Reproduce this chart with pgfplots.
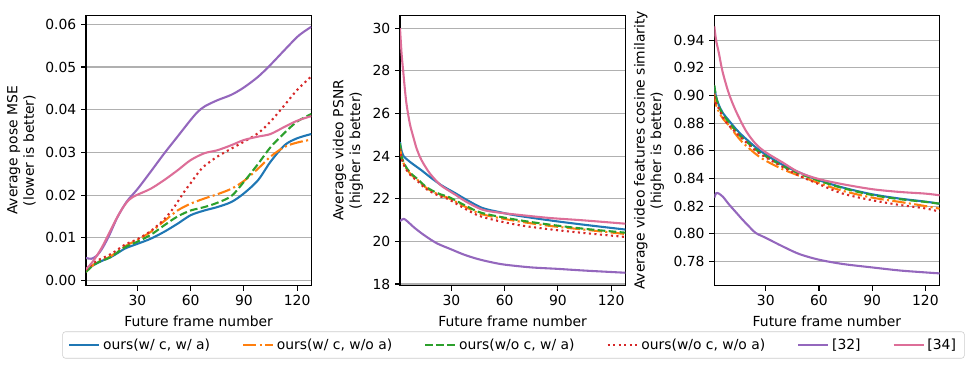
\documentclass[border=0pt]{standalone}
\usepackage{fontspec}
\setmainfont{DejaVu Sans}
\usepackage{pgfplots}
\pgfplotsset{compat=1.18}
\definecolor{cblue}{HTML}{1F77B4}
\definecolor{corange}{HTML}{FF7F0E}
\definecolor{cgreen}{HTML}{2CA02C}
\definecolor{cred}{HTML}{D62728}
\definecolor{cpurple}{HTML}{9467BD}
\definecolor{cpink}{HTML}{DD6E98}
\definecolor{cgrid}{HTML}{B0B0B0}
\pgfplotsset{
  panel/.style={
    scale only axis, width=162.2pt, height=194.7pt,
    xmin=1, xmax=128, xtick={30,60,90,120},
    tick align=outside, tick pos=left,
    major tick length=3.5pt,
    every tick/.style={black, line width=0.8pt},
    axis line style={line width=0.8pt},
    ymajorgrids, grid style={color=cgrid, line width=0.8pt},
    xlabel={Future frame number},
    ticklabel style={font=\fontsize{10}{12}\selectfont},
    label style={font=\fontsize{10}{12}\selectfont},
    ylabel style={align=center},
    /pgf/number format/assume math mode=true,
    every axis plot/.append style={line width=1.5pt, smooth, line join=round},
    legend image code/.code={\draw[#1] (0pt,0pt) -- (21.6pt,0pt);},
  },
  sblue/.style={cblue, solid},
  sorange/.style={corange, dash pattern=on 9.6pt off 2.4pt on 1.5pt off 2.4pt},
  sgreen/.style={cgreen, dash pattern=on 5.55pt off 2.4pt},
  sred/.style={cred, dash pattern=on 1.5pt off 2.475pt},
  spurple/.style={cpurple, solid},
  spink/.style={cpink, solid},
}
\begin{document}
\begin{tikzpicture}
\path[use as bounding box] (0pt,0pt) rectangle (700.56pt,264.24pt);
% ---------------- Panel 1 ----------------
\begin{axis}[panel, at={(61.92pt,58.54pt)}, anchor=south west,
  ymin=-0.0012, ymax=0.0621, ytick={0,0.01,0.02,0.03,0.04,0.05,0.06},
  scaled y ticks=false,
  yticklabel style={/pgf/number format/.cd, fixed, fixed zerofill, precision=2},
  ylabel={Average pose MSE\\(lower is better)},
  legend columns=6,
  legend style={at={(1.8975,-0.2193)}, anchor=center, draw=black!20, rounded corners=2pt,
    font=\fontsize{10}{12}\selectfont, inner xsep=4pt, inner ysep=3pt,
    /tikz/every even column/.append style={column sep=21pt}},
  legend cell align=left,
]
\addplot[sblue] coordinates {(1,0.0022) (4,0.0033) (7.4,0.0041) (11,0.0048) (15,0.0055) (18.7,0.0064) (22.5,0.0074) (26,0.0080) (30,0.0086) (37.5,0.0098) (45,0.0114) (52.6,0.0133) (60,0.0153) (67.7,0.0164) (75,0.0172) (83,0.0184) (90,0.0204) (98,0.0235) (105,0.0278) (113,0.0317) (120,0.0333) (128,0.0343)};
\addlegendentry{ours(w/ c, w/ a)}
\addplot[sorange] coordinates {(1,0.0020) (4,0.0033) (7.4,0.0043) (11,0.0049) (15,0.0057) (18.7,0.0068) (22.5,0.0079) (26,0.0087) (30,0.0095) (37.5,0.0114) (45,0.0139) (52.6,0.0164) (60,0.0180) (67.7,0.0192) (75,0.0202) (83,0.0215) (90,0.0233) (98,0.0262) (105,0.0290) (113,0.0313) (120,0.0323) (128,0.0330)};
\addlegendentry{ours(w/ c, w/o a)}
\addplot[sgreen] coordinates {(1,0.0020) (4,0.0032) (7.4,0.0042) (11,0.0048) (15,0.0055) (18.7,0.0066) (22.5,0.0077) (26,0.0084) (30,0.0091) (37.5,0.0107) (45,0.0129) (52.6,0.0150) (60,0.0164) (67.7,0.0172) (75,0.0182) (83,0.0198) (90,0.0231) (98,0.0273) (105,0.0312) (113,0.0346) (120,0.0372) (128,0.0390)};
\addlegendentry{ours(w/o c, w/ a)}
\addplot[sred] coordinates {(1,0.0025) (4,0.0037) (7.4,0.0047) (11,0.0054) (15,0.0062) (18.7,0.0072) (22.5,0.0083) (26,0.0090) (30,0.0097) (37.5,0.0116) (45,0.0143) (50.7,0.0172) (56.4,0.0208) (60,0.0228) (64,0.0251) (67.7,0.0268) (75,0.0290) (83,0.0309) (90,0.0325) (98,0.0345) (105,0.0372) (113,0.0411) (120,0.0446) (128,0.0478)};
\addlegendentry{ours(w/o c, w/o a)}
\addplot[spurple] coordinates {(1,0.0053) (4,0.0051) (7,0.0058) (10,0.0074) (14,0.0105) (18.7,0.0148) (24,0.0185) (30,0.0214) (37.5,0.0255) (45,0.0297) (52.6,0.0337) (60,0.0376) (64,0.0395) (68,0.0408) (75,0.0422) (83,0.0435) (90,0.0452) (98,0.0477) (105,0.0505) (113,0.0540) (120,0.0570) (124,0.0583) (128,0.0594)};
\addlegendentry{[32]}
\addplot[spink] coordinates {(1,0.0027) (4,0.0040) (7.4,0.0060) (10,0.0078) (13,0.0102) (16,0.0127) (18.7,0.0149) (22,0.0172) (25,0.0188) (28,0.0197) (30,0.0201) (37.5,0.0215) (45,0.0235) (52.6,0.0258) (60,0.0282) (67.7,0.0298) (75,0.0305) (83,0.0317) (90,0.0329) (98,0.0337) (105,0.0343) (113,0.0360) (120,0.0374) (128,0.0385)};
\addlegendentry{[34]}
\end{axis}
% ---------------- Panel 2 ----------------
\begin{axis}[panel, at={(288pt,58.54pt)}, anchor=south west,
  ymin=17.92, ymax=30.61, ytick={18,20,22,24,26,28,30},
  ylabel={Average video PSNR\\(higher is better)},
]
\addplot[sblue] coordinates {(1,24.65) (2,24.2) (3,24.0) (6.6,23.73) (13.2,23.33) (17.9,23.02) (24,22.65) (28.5,22.43) (32,22.27) (37.9,21.98) (47.3,21.57) (56.7,21.38) (66.2,21.22) (85,20.99) (103.8,20.79) (126.4,20.57) (128,20.55)};
\addplot[sorange] coordinates {(1,24.45) (2,23.9) (4,23.5) (7,23.15) (11.5,22.84) (15,22.56) (19,22.35) (24,22.15) (28.5,22.03) (37.9,21.62) (47.3,21.27) (66.2,20.96) (85,20.73) (103.8,20.56) (126.4,20.36) (128,20.35)};
\addplot[sgreen] coordinates {(1,24.6) (2,23.95) (4,23.55) (7,23.2) (11.5,22.88) (15,22.6) (19,22.39) (24,22.2) (28.5,22.08) (37.9,21.68) (47.3,21.33) (66.2,21.02) (85,20.79) (103.8,20.6) (126.4,20.42) (128,20.41)};
\addplot[sred] coordinates {(1,24.35) (2,23.85) (4,23.45) (7,23.1) (11.5,22.78) (15,22.5) (19,22.3) (24,22.1) (28.5,21.97) (37.9,21.52) (47.3,21.15) (66.2,20.79) (85,20.57) (103.8,20.4) (126.4,20.22) (128,20.21)};
\addplot[spurple] coordinates {(1,20.95) (3,21.06) (5,20.95) (8.7,20.67) (12,20.45) (16.2,20.2) (22,19.9) (30,19.62) (37,19.38) (44.5,19.18) (52,19.03) (59.8,18.91) (74.7,18.78) (89.8,18.71) (104.9,18.63) (127.5,18.53) (128,18.53)};
\addplot[spink] coordinates {(1,30.0) (1.9,28.8) (2.9,27.9) (3.8,27.1) (4.75,26.4) (6.6,25.5) (8.5,24.9) (10.4,24.35) (13.2,23.8) (17.9,23.18) (23.6,22.66) (28.5,22.38) (32,22.2) (37.9,21.88) (47.3,21.49) (56.7,21.35) (66.2,21.26) (85,21.1) (103.8,20.99) (126.4,20.84) (128,20.83)};
\end{axis}
% ---------------- Panel 3 ----------------
\begin{axis}[panel, at={(514.3pt,58.54pt)}, anchor=south west,
  ymin=0.7624, ymax=0.958, ytick={0.78,0.80,0.82,0.84,0.86,0.88,0.90,0.92,0.94},
  yticklabel style={/pgf/number format/.cd, fixed, fixed zerofill, precision=2},
  ylabel={Average video features cosine similarity\\(higher is better)},
]
\addplot[sblue] coordinates {(1,0.9062) (2,0.899) (3.6,0.8929) (6,0.887) (9.2,0.8819) (13,0.876) (16.8,0.871) (24.3,0.8625) (30,0.8572) (39.4,0.8499) (48.9,0.8443) (60,0.8387) (73.4,0.8334) (90,0.8285) (105.5,0.8254) (120,0.8232) (128,0.8217)};
\addplot[sorange] coordinates {(1,0.9014) (2,0.893) (3.6,0.888) (6,0.883) (9.2,0.8783) (13,0.872) (16.8,0.8662) (24.3,0.8577) (30,0.8528) (39.4,0.8467) (48.9,0.8419) (60,0.8366) (73.4,0.831) (90,0.8261) (105.5,0.823) (120,0.820) (128,0.8181)};
\addplot[sgreen] coordinates {(1,0.9074) (2,0.899) (3.6,0.892) (6,0.886) (9.2,0.8807) (13,0.8745) (16.8,0.8693) (24.3,0.861) (30,0.856) (39.4,0.849) (48.9,0.8435) (60,0.8383) (73.4,0.833) (90,0.828) (105.5,0.825) (120,0.823) (128,0.8217)};
\addplot[sred] coordinates {(1,0.899) (2,0.894) (3.6,0.8904) (6,0.884) (9.2,0.8783) (13,0.8735) (16.8,0.8686) (24.3,0.8601) (30,0.8552) (39.4,0.8484) (48.9,0.8419) (60,0.8358) (73.4,0.829) (90,0.8242) (105.5,0.8208) (120,0.8183) (128,0.8159)};
\addplot[spurple] coordinates {(1,0.8261) (2,0.8293) (3.6,0.829) (6,0.8265) (9.2,0.8213) (13,0.8158) (16.8,0.8103) (20,0.806) (24.3,0.8006) (30,0.797) (39.4,0.7909) (48.9,0.7853) (60,0.7812) (73.4,0.7781) (90,0.7756) (105.5,0.7734) (120,0.772) (128,0.7713)};
\addplot[spink] coordinates {(1,0.950) (2,0.940) (3.6,0.9305) (5,0.921) (6.4,0.9135) (9.2,0.9014) (13,0.8892) (18.7,0.8747) (24.3,0.865) (30,0.8589) (39.4,0.8516) (48.9,0.8443) (60,0.8395) (73.4,0.8358) (90,0.8322) (105.5,0.8302) (120,0.829) (128,0.8278)};
\end{axis}
\end{tikzpicture}
\end{document}
